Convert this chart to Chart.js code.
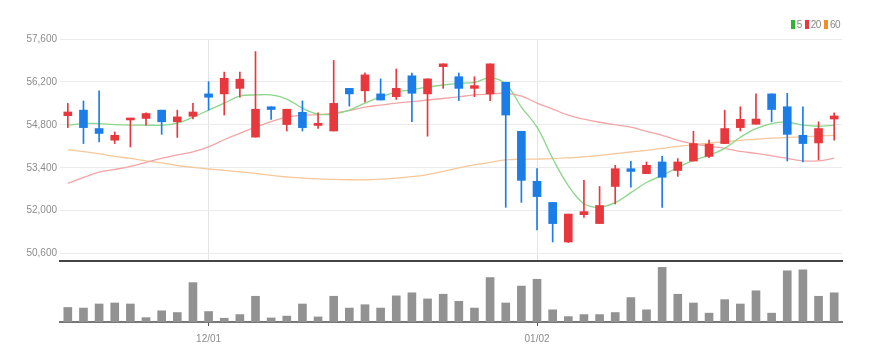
<!DOCTYPE html>
<html>
<head>
<meta charset="utf-8">
<script src="https://cdn.jsdelivr.net/npm/chart.js@4.4.1/dist/chart.umd.min.js"></script>
<style>
    body { margin: 0; background: #fff; width: 878px; height: 361px; overflow: hidden; position: relative; }
    #priceChart { position: absolute; left: 0; top: 0; }
    #volumeChart { position: absolute; left: 0; top: 262px; }
    .legend { position: absolute; top: 19px; right: 38px; font: 10px 'Liberation Sans', sans-serif; letter-spacing: -0.5px; color: #888; white-space: nowrap; line-height: 12px; }
    .legend span.box { display: inline-block; width: 4px; height: 9px; vertical-align: -1px; margin-right: 2px; }
    .legend span.txt { margin-right: 3px; }
    .legend span.txt:last-child { margin-right: 0; }
</style>
</head>
<body>
<canvas id="priceChart" width="878" height="270"></canvas>
<canvas id="volumeChart" width="878" height="99"></canvas>
<div class="legend">
    <span class="box" style="background:#2fb52f"></span><span class="txt">5</span><span class="box" style="background:#e8383d"></span><span class="txt">20</span><span class="box" style="background:#f09022"></span><span class="txt">60</span>
</div>
<script>
const labels = ['11/18', '11/19', '11/20', '11/21', '11/24', '11/25', '11/26', '11/27', '11/28',
    '12/01', '12/02', '12/03', '12/04', '12/05', '12/08', '12/09', '12/10', '12/11', '12/12', '12/15',
    '12/16', '12/17', '12/18', '12/19', '12/22', '12/23', '12/24', '12/26', '12/29', '12/30',
    '01/02', '01/05', '01/06', '01/07', '01/08', '01/09', '01/12', '01/13', '01/14', '01/15',
    '01/16', '01/19', '01/20', '01/21', '01/22', '01/23', '01/26', '01/27', '01/28', '01/29'];
const tickDates = ['12/01', '01/02'];
const priceTicks = [50600, 52000, 53400, 54800, 56200, 57600];

const opens = [55100, 55280, 54680, 54300, 54960, 55010, 55280, 54900, 55080, 55810,
    55810, 55990, 54400, 55390, 54810, 55210, 54780, 54600, 55990, 55910,
    55810, 55720, 56400, 55810, 56700, 56370, 55990, 55810, 56190, 54590,
    52960, 52270, 50980, 51870, 51580, 52790, 53370, 53210, 53590, 53310,
    53620, 53770, 54190, 54710, 54820, 55810, 55390, 54460, 54210, 54990];
const highs = [55500, 55580, 55910, 54570, 55010, 55190, 55280, 55280, 55500, 56210,
    56520, 56520, 57190, 55390, 55310, 55580, 55190, 56900, 55990, 56500,
    56300, 56620, 56490, 56300, 56790, 56490, 56370, 56790, 56190, 54590,
    53370, 52270, 51890, 52990, 52790, 53480, 53610, 53590, 53770, 53700,
    54590, 54300, 55280, 55390, 55810, 55810, 55830, 55390, 54900, 55190];
const lows = [54710, 54190, 54240, 54190, 54080, 54790, 54490, 54390, 54990, 55280,
    55120, 55700, 54400, 54980, 54600, 54600, 54680, 54600, 55410, 55550,
    55610, 55630, 54900, 54430, 55990, 55590, 55720, 55590, 52110, 52270,
    51370, 50980, 50960, 51780, 51580, 52220, 52770, 53210, 52110, 53120,
    53620, 53730, 54190, 54600, 54820, 54900, 53620, 53590, 53660, 54300];
const closes = [55220, 54710, 54520, 54460, 55010, 55170, 54900, 55060, 55220, 55700,
    56320, 56290, 55310, 55300, 55310, 54710, 54850, 55500, 55810, 56430,
    55610, 55990, 55830, 56300, 56790, 55990, 56080, 56790, 55120, 52990,
    52460, 51580, 51890, 51970, 52170, 53370, 53280, 53480, 53090, 53590,
    54190, 54170, 54680, 54980, 54990, 55300, 54490, 54190, 54680, 55090];
const volumes = [14300, 13700, 17700, 18700, 17700, 4300, 11000, 9300, 38700, 10300,
    3700, 7300, 25300, 4000, 5800, 17700, 5000, 25300, 13700, 17000,
    13700, 25700, 28700, 22700, 27300, 20300, 13700, 43700, 18700, 35300,
    42000, 12000, 5300, 7300, 7300, 9300, 24000, 12000, 53700, 27300,
    18700, 8700, 22000, 17700, 30700, 8700, 50300, 51300, 25300, 28700];
const ma5 = [54790, 54840, 54840, 54805, 54790, 54790, 54790, 54855, 55050, 55280,
    55510, 55740, 55775, 55775, 55640, 55345, 55150, 55150, 55280, 55510,
    55710, 55870, 55940, 56035, 56100, 56150, 56185, 56330, 56135, 55380,
    54725, 53705, 52820, 52230, 52115, 52265, 52590, 52920, 53150, 53410,
    53640, 53805, 54035, 54395, 54675, 54840, 54885, 54790, 54755, 54790];
const ma20 = [52895, 53085, 53255, 53345, 53445, 53575, 53705, 53820, 53920, 54085,
    54315, 54525, 54725, 54905, 55050, 55115, 55135, 55185, 55265, 55380,
    55445, 55510, 55560, 55610, 55660, 55715, 55775, 55805, 55830, 55740,
    55510, 55315, 55115, 54985, 54885, 54805, 54725, 54590, 54460, 54295,
    54180, 54100, 54035, 53935, 53870, 53790, 53705, 53625, 53625, 53715];
const ma60 = [53990, 53925, 53860, 53770, 53705, 53625, 53560, 53475, 53410, 53360,
    53315, 53265, 53215, 53150, 53100, 53060, 53040, 53020, 53010, 53010,
    53030, 53065, 53110, 53180, 53280, 53395, 53495, 53575, 53655, 53675,
    53685, 53700, 53725, 53755, 53805, 53860, 53915, 53970, 54035, 54100,
    54150, 54200, 54250, 54295, 54330, 54365, 54390, 54410, 54435, 54460];

const upColor = '#e8383d';
const downColor = '#1a7de8';
const axisFont = { size: 10, family: "'Liberation Sans', sans-serif" };

function candleColors() {
    return opens.map((o, i) => closes[i] >= o ? upColor : downColor);
}

function isTickDate(index) {
    return tickDates.includes(labels[index]);
}

function maLine(label, data, color, order) {
    return {
        type: 'line',
        label: label,
        data: data,
        borderColor: color,
        borderWidth: 1.3,
        pointRadius: 0,
        tension: 0.4,
        fill: false,
        order: order
    };
}

function initPriceChart() {
    const ctx = document.getElementById('priceChart');
    const colors = candleColors();
    new Chart(ctx, {
        type: 'bar',
        data: {
            labels: labels,
            datasets: [
                maLine('5', ma5, '#8ad68a', 3),
                maLine('20', ma20, '#f3a5a5', 4),
                maLine('60', ma60, '#f7c79a', 5),
                {
                    label: 'wick',
                    data: lows.map((l, i) => [l, highs[i]]),
                    backgroundColor: colors,
                    barThickness: 1,
                    grouped: false,
                    order: 2
                },
                {
                    label: 'body',
                    data: opens.map((o, i) => [o, closes[i]]),
                    backgroundColor: colors,
                    barThickness: 8,
                    minBarLength: 2,
                    grouped: false,
                    order: 1
                }
            ]
        },
        options: {
            responsive: false,
            animation: false,
            layout: { padding: { top: 39, right: 36, bottom: 2, left: 0 } },
            plugins: { legend: { display: false }, tooltip: { enabled: false } },
            scales: {
                x: {
                    offset: true,
                    ticks: { display: false, autoSkip: false },
                    grid: {
                        offset: false,
                        drawTicks: false,
                        color: (c) => c.tick && isTickDate(c.tick.value) ? '#e4e4e4' : 'rgba(0,0,0,0)'
                    },
                    border: { color: '#444', width: 2 }
                },
                y: {
                    min: 50360,
                    max: 57600,
                    afterBuildTicks: (scale) => { scale.ticks = priceTicks.map(v => ({ value: v })); },
                    afterFit: (scale) => { scale.width = 60; },
                    grid: { color: '#ebebeb', drawTicks: false },
                    border: { display: false },
                    ticks: {
                        padding: 3,
                        color: '#8c8c8c',
                        font: axisFont,
                        callback: (v) => v.toLocaleString('en-US')
                    }
                }
            }
        }
    });
}

function initVolumeChart() {
    const ctx = document.getElementById('volumeChart');
    new Chart(ctx, {
        type: 'bar',
        data: {
            labels: labels,
            datasets: [{
                label: 'volume',
                data: volumes,
                backgroundColor: '#929292',
                barThickness: 8
            }]
        },
        options: {
            responsive: false,
            animation: false,
            layout: { padding: { top: 1, right: 36, bottom: 9, left: 60 } },
            plugins: { legend: { display: false }, tooltip: { enabled: false } },
            scales: {
                x: {
                    offset: true,
                    grid: {
                        offset: false,
                        drawOnChartArea: false,
                        tickLength: 4,
                        tickColor: (c) => c.tick && isTickDate(c.tick.value) ? '#555' : 'rgba(0,0,0,0)'
                    },
                    border: { color: '#777', width: 2 },
                    ticks: {
                        autoSkip: false,
                        maxRotation: 0,
                        padding: 7,
                        color: '#8c8c8c',
                        font: axisFont,
                        callback: (v, i) => isTickDate(i) ? labels[i] : ''
                    }
                },
                y: { display: false, min: 0, max: 58000 }
            }
        }
    });
}

initPriceChart();
initVolumeChart();
</script>
</body>
</html>
